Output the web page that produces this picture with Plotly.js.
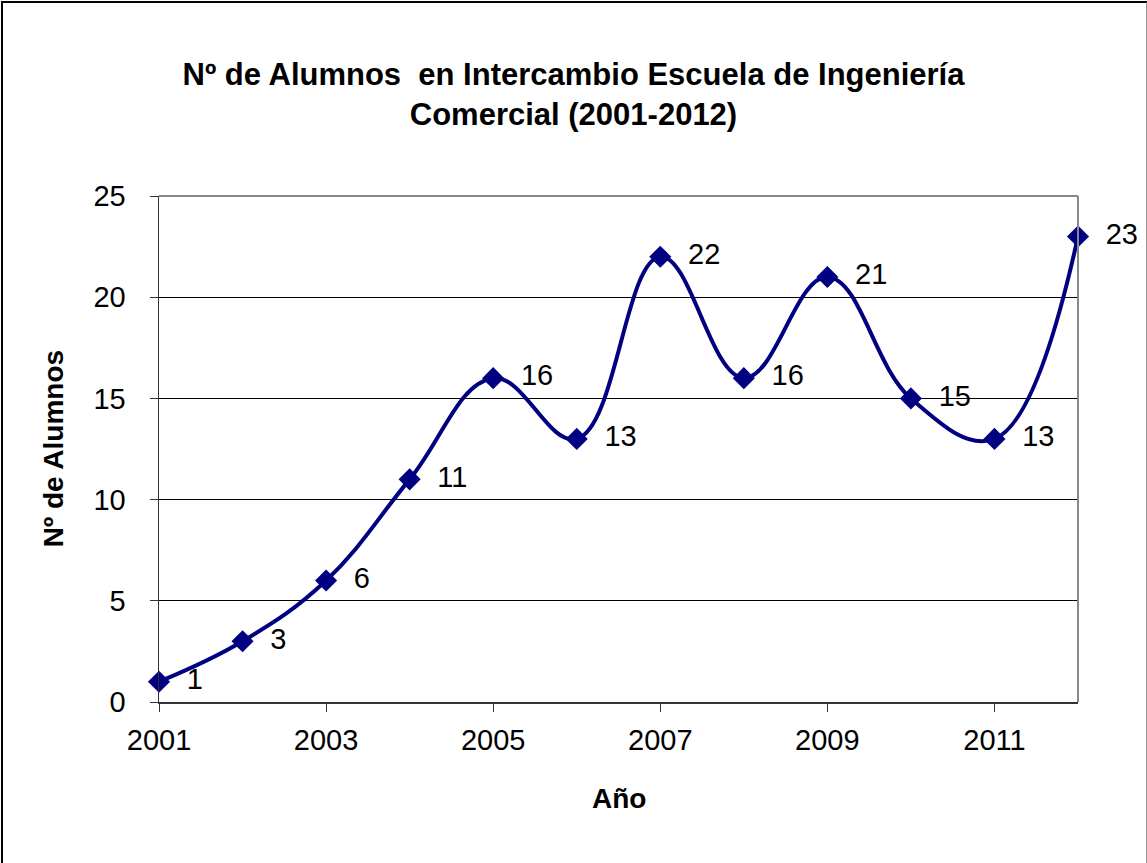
<!DOCTYPE html>
<html>
<head>
<meta charset="utf-8">
<script src="https://cdn.plot.ly/plotly-3.0.1.min.js"></script>
<style>
html,body{margin:0;padding:0;background:#fff;}
#wrap{position:absolute;left:0;top:0;width:1147px;height:863px;}
#frame{position:absolute;left:1px;top:1px;width:1143px;height:870px;border-left:2px solid #000;border-top:2px solid #000;border-right:2px solid #999;pointer-events:none;}
#chart{position:absolute;left:0;top:0;width:1147px;height:863px;}
</style>
</head>
<body>
<div id="wrap">
<div id="chart"></div>
<div id="frame"></div>
</div>
<script>
const years = [2001,2002,2003,2004,2005,2006,2007,2008,2009,2010,2011,2012];
const alumnos = [1,3,6,11,16,13,22,16,21,15,13,23];
const titleText = 'Nº de Alumnos  en Intercambio Escuela de Ingeniería<br>Comercial (2001-2012)';
const xTitle = 'Año';
const yTitle = 'Nº de Alumnos';

const font = 'Arial, "Liberation Sans", sans-serif';
const navy = '#000080';

const trace = {
  x: years, y: alumnos,
  type: 'scatter', mode: 'lines+markers+text',
  line: {color: navy, width: 4, shape: 'spline', smoothing: 1.15},
  marker: {symbol: 'diamond', size: 17, color: navy},
  text: alumnos.map(v => '\u00a0\u00a0' + v),
  textposition: 'middle right',
  textfont: {family: font, size: 29, color: '#000'},
  cliponaxis: false,
  hoverinfo: 'x+y'
};

const layout = {
  width: 1147, height: 863,
  paper_bgcolor: '#fff', plot_bgcolor: '#fff',
  margin: {l: 159, r: 69, t: 196, b: 161},
  showlegend: false,
  title: {text: titleText, font: {family: font, size: 31, color: '#000', weight: 'bold'}, x: 0.5, xanchor: 'center', y: 0.902, yanchor: 'middle'},
  xaxis: {
    range: [2001, 2012], tick0: 2001, dtick: 2, showgrid: false, zeroline: false,
    showline: true, linecolor: '#333', linewidth: 1.5,
    ticks: 'outside', ticklen: 8, tickcolor: '#333', tickwidth: 1,
    tickfont: {family: font, size: 29, color: '#000'}, ticklabelstandoff: 4
  },
  yaxis: {
    range: [0, 25], dtick: 5, showgrid: true, gridcolor: '#000', gridwidth: 1, zeroline: false,
    showline: true, linecolor: '#333', linewidth: 1.5,
    ticks: 'outside', ticklen: 8, tickcolor: '#333', tickwidth: 1,
    tickfont: {family: font, size: 29, color: '#000'}, ticklabelstandoff: 18
  },
  shapes: [
    {type: 'line', xref: 'paper', yref: 'paper', x0: 0, x1: 1, y0: 1, y1: 1, line: {color: '#888', width: 2}},
    {type: 'line', xref: 'paper', yref: 'paper', x0: 1, x1: 1, y0: 0, y1: 1, line: {color: '#888', width: 2}}
  ],
  annotations: [
    {text: '<b>' + xTitle + '</b>', xref: 'paper', yref: 'paper', x: 0.5, y: -0.19, xanchor: 'center', yanchor: 'middle', showarrow: false, font: {family: font, size: 28, color: '#000'}},
    {text: '<b>' + yTitle + '</b>', xref: 'paper', yref: 'paper', x: -0.115, y: 0.5, xanchor: 'center', yanchor: 'middle', textangle: -90, showarrow: false, font: {family: font, size: 28, color: '#000'}}
  ]
};

Plotly.newPlot('chart', [trace], layout, {displayModeBar: false, staticPlot: true});
</script>
</body>
</html>
